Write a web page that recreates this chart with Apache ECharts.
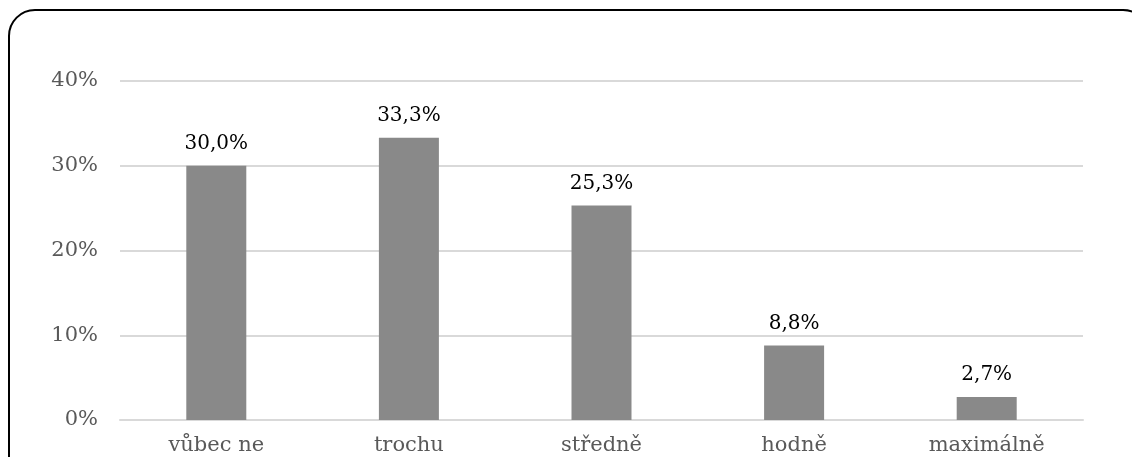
<!DOCTYPE html>
<html>
<head>
<meta charset="utf-8">
<script src="https://cdn.jsdelivr.net/npm/echarts@6/dist/echarts.min.js"></script>
<style>
  html, body { margin: 0; padding: 0; background: #fff; }
  #chart { width: 1132px; height: 457px; }
</style>
</head>
<body>
<div id="chart"></div>
<script>
const categories = ['vůbec ne', 'trochu', 'středně', 'hodně', 'maximálně'];
const values = [30.0, 33.3, 25.3, 8.8, 2.7];

const chart = echarts.init(document.getElementById('chart'), null, { renderer: 'canvas' });
const font = 'DejaVu Serif';

chart.setOption({
    backgroundColor: '#FFFFFF',
    animation: false,
    graphic: [{
        type: 'rect',
        shape: { x: 9, y: 10, width: 1140, height: 480, r: 26 },
        style: { fill: 'none', stroke: '#000', lineWidth: 2 },
        silent: true
    }],
    grid: { left: 120, right: 49, top: 81, bottom: 37 },
    xAxis: {
        type: 'category',
        data: categories,
        axisTick: { show: false },
        axisLine: { lineStyle: { color: '#d9d9d9', width: 2 } },
        axisLabel: { color: '#595959', fontFamily: font, fontSize: 21, margin: 15 }
    },
    yAxis: {
        type: 'value',
        min: 0,
        max: 40,
        interval: 10,
        axisLine: { show: false },
        axisTick: { show: false },
        splitLine: { lineStyle: { color: '#d9d9d9', width: 2 } },
        axisLabel: {
            color: '#595959', fontFamily: font, fontSize: 21, margin: 22,
            formatter: v => v + '%'
        }
    },
    series: [{
        type: 'bar',
        data: values,
        barWidth: 60,
        itemStyle: { color: '#898989' },
        label: {
            show: true,
            position: 'top',
            distance: 12,
            color: '#000',
            fontFamily: font,
            fontSize: 20,
            formatter: p => p.value.toFixed(1).replace('.', ',') + '%'
        }
    }]
});
</script>
</body>
</html>
